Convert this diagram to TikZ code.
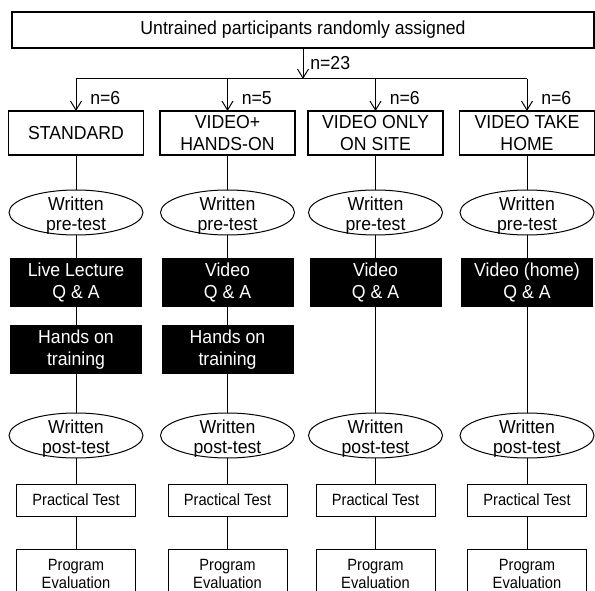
\documentclass[tikz,border=0pt]{standalone}
\usepackage{fontspec}
\setmainfont{Liberation Sans}
\newfontfamily\bigsf{Liberation Sans}[FakeStretch=0.94]
\newfontfamily\smallsf{Liberation Sans}[FakeStretch=0.90]
\usetikzlibrary{shapes.geometric, arrows.meta, positioning}

\begin{document}
\begin{tikzpicture}[
    x=1pt, y=1pt,
    every node/.style={outer sep=0pt},
    bigfont/.style={font=\bigsf\fontsize{18.8}{21.5}\selectfont},
    topbox/.style={rectangle, draw, line width=1.2pt, minimum width=582pt, minimum height=36pt, bigfont},
    group/.style={rectangle, draw, line width=1.2pt, minimum width=135pt, minimum height=44pt, inner sep=1pt, align=center, bigfont},
    exam/.style={ellipse, draw, line width=1pt, minimum width=134pt, minimum height=45pt, inner sep=0pt},
    examtext/.style={align=center, yshift=-3.5pt, font=\bigsf\fontsize{18.8}{20}\selectfont},
    teach/.style={rectangle, fill=black, text=white, minimum width=132pt, minimum height=49pt, align=center, bigfont},
    result/.style={rectangle, draw, line width=1pt, minimum width=119pt, minimum height=32pt, align=center, font=\smallsf\fontsize{16.3}{18}\selectfont},
    evalbox/.style={result, minimum height=50pt},
    count/.style={anchor=west, xshift=11pt, yshift=-3pt, bigfont},
    arrow/.style={-{Straight Barb[length=9pt,width=11pt]}, line width=1pt},
    link/.style={line width=1pt},
    node distance=35pt
]
\useasboundingbox (0,0) rectangle (595,-591);
\clip (0,0) rectangle (595,-591);

% allocation
\node[topbox] (start) at (303,-30) {Untrained participants randomly assigned};
\coordinate (split) at (303,-79);

\node[group] (std) at (76,-133) {STANDARD};
\node[group] (vho) at (227.5,-133) {VIDEO+\\HANDS-ON};
\node[group] (vos) at (375.5,-133) {VIDEO ONLY\\ON SITE};
\node[group] (vth) at (527,-133) {VIDEO TAKE\\HOME};

% pre-tests
\node[exam, below=of std, label={[examtext]center:Written\\pre-test}] (pre1) {};
\node[exam, below=of vho, label={[examtext]center:Written\\pre-test}] (pre2) {};
\node[exam, below=of vos, label={[examtext]center:Written\\pre-test}] (pre3) {};
\node[exam, below=of vth, label={[examtext]center:Written\\pre-test}] (pre4) {};

% teaching
\node[teach, below=23pt of pre1] (lec1) {Live Lecture\\Q \& A};
\node[teach, below=23pt of pre2] (lec2) {Video\\Q \& A};
\node[teach, below=23pt of pre3] (lec3) {Video\\Q \& A};
\node[teach, below=23pt of pre4] (lec4) {Video (home)\\Q \& A};
\node[teach, below=18pt of lec1] (hands1) {Hands on\\training};
\node[teach, below=18pt of lec2] (hands2) {Hands on\\training};

% post-tests
\node[exam, below=39pt of hands1, label={[examtext]center:Written\\post-test}] (post1) {};
\node[exam, below=39pt of hands2, label={[examtext]center:Written\\post-test}] (post2) {};
\node[exam, below=106pt of lec3, label={[examtext]center:Written\\post-test}] (post3) {};
\node[exam, below=106pt of lec4, label={[examtext]center:Written\\post-test}] (post4) {};

\node[result, below=26pt of post1] (prac1) {Practical Test};
\node[result, below=26pt of post2] (prac2) {Practical Test};
\node[result, below=26pt of post3] (prac3) {Practical Test};
\node[result, below=26pt of post4] (prac4) {Practical Test};

\node[evalbox, below=33pt of prac1] (eval1) {Program\\Evaluation};
\node[evalbox, below=33pt of prac2] (eval2) {Program\\Evaluation};
\node[evalbox, below=33pt of prac3] (eval3) {Program\\Evaluation};
\node[evalbox, below=33pt of prac4] (eval4) {Program\\Evaluation};

% arrows
\draw[arrow] (start) -- node[anchor=west, xshift=4pt, bigfont] {n=23} (split);
\draw[link] (split -| std) -- (split -| vth);
\draw[arrow] (split -| std) -- node[count] {n=6} (std);
\draw[arrow] (split -| vho) -- node[count] {n=5} (vho);
\draw[arrow] (split -| vos) -- node[count] {n=6} (vos);
\draw[arrow] (split -| vth) -- node[count] {n=6} (vth);

% column links
\draw[link] (std) -- (pre1) -- (lec1) -- (hands1) -- (post1) -- (prac1) -- (eval1);
\draw[link] (vho) -- (pre2) -- (lec2) -- (hands2) -- (post2) -- (prac2) -- (eval2);
\draw[link] (vos) -- (pre3) -- (lec3) -- (post3) -- (prac3) -- (eval3);
\draw[link] (vth) -- (pre4) -- (lec4) -- (post4) -- (prac4) -- (eval4);

\end{tikzpicture}
\end{document}
